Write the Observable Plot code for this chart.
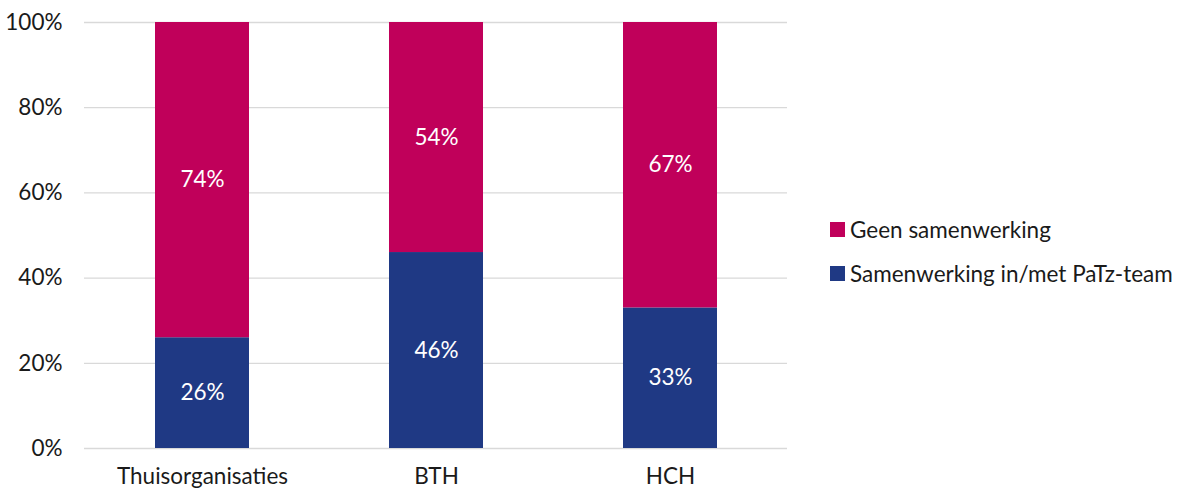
<!DOCTYPE html>
<html>
<head>
<meta charset="utf-8">
<script src="https://cdn.jsdelivr.net/npm/d3@7"></script>
<script src="https://cdn.jsdelivr.net/npm/@observablehq/plot@0.6"></script>
<style>
  body { margin: 0; background: #fff; font-family: Lato, "Open Sans", sans-serif; }
  #wrap { position: relative; width: 1181px; height: 489px; }
  #legend { position: absolute; left: 830px; top: 214px; font-size: 22.5px; color: #1a1a1a; }
  .item { display: flex; align-items: center; height: 30px; margin-bottom: 14px; white-space: nowrap; }
  .sw { width: 15px; height: 15px; margin-right: 5px; flex: none; }
</style>
</head>
<body>
<div id="wrap"><div id="chart"></div><div id="legend"></div></div>
<script>
const categories = ["Thuisorganisaties", "BTH", "HCH"];
const seriesNames = ["Samenwerking in/met PaTz-team", "Geen samenwerking"];
const samenwerking = [26, 46, 33];
const geen = [74, 54, 67];
const colors = ["#1F3984", "#C0005A"];
const yTicks = [0, 20, 40, 60, 80, 100];

const data = [];
categories.forEach((c, i) => {
  data.push({cat: c, series: seriesNames[0], value: samenwerking[i]});
  data.push({cat: c, series: seriesNames[1], value: geen[i]});
});

const chart = Plot.plot({
  width: 800,
  height: 489,
  marginLeft: 84,
  marginRight: 13,
  marginTop: 22,
  marginBottom: 41,
  style: {fontFamily: "Lato, 'Open Sans', sans-serif", fontSize: "22.5px", color: "#1a1a1a", overflow: "visible"},
  x: {domain: categories, paddingInner: 0.6, paddingOuter: 0.3, label: null, tickSize: 0, tickPadding: 20},
  y: {domain: [0, 100], ticks: yTicks, tickFormat: d => d + "%", label: null, tickSize: 0, tickPadding: 22},
  color: {domain: seriesNames, range: colors},
  marks: [
    Plot.ruleY(yTicks, {stroke: "#d9d9d9", strokeWidth: 1.3}),
    Plot.barY(data, Plot.stackY({x: "cat", y: "value", fill: "series", z: "series", order: seriesNames})),
    Plot.text(data, Plot.stackY({x: "cat", y: "value", z: "series", order: seriesNames, text: d => d.value + "%", fill: "white", fontSize: 22.5}))
  ]
});
document.getElementById("chart").appendChild(chart);

const leg = document.getElementById("legend");
[1, 0].forEach(i => {
  const d = document.createElement("div");
  d.className = "item";
  d.innerHTML = `<span class="sw" style="background:${colors[i]}"></span><span>${seriesNames[i]}</span>`;
  leg.appendChild(d);
});
</script>
</body>
</html>
